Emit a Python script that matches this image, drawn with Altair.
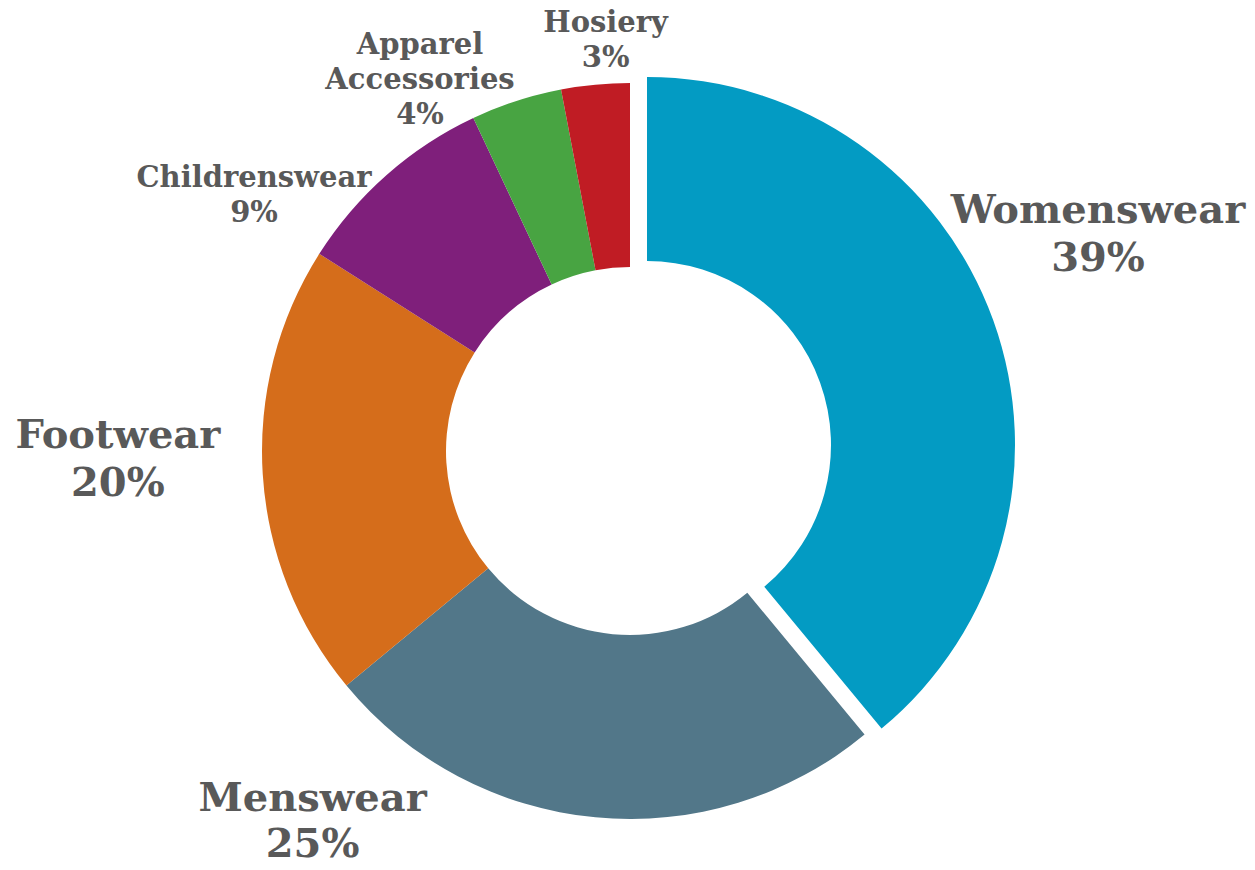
import math
import altair as alt
import pandas as pd

categories = ["Womenswear", "Menswear", "Footwear", "Childrenswear", "Apparel Accessories", "Hosiery"]
values = [39, 25, 20, 9, 4, 3]
label_names = ["Womenswear", "Menswear", "Footwear", "Childrenswear", "Apparel\nAccessories", "Hosiery"]
colors = ["#039BC3", "#527789", "#D56D1B", "#7F1F7B", "#48A442", "#C01C24"]

df = pd.DataFrame({
    "category": categories,
    "value": values,
    "order": list(range(len(categories))),
    "name": label_names,
})
df["label"] = [f"{n}\n{v}%" for n, v in zip(label_names, values)]

# layout (pixels) -----------------------------------------------------------
CX, CY = 622, 442          # donut centre inside the plot area
R_OUT, R_IN = 368, 184
EXPLODE = (17, -6)         # offset of the Womenswear slice
LABEL_R = 440
label_layout = {           # dx, dy, font size, line height
    "Womenswear": (54, -91, 40, 48),
    "Menswear": (-276, -90, 40, 46),
    "Footwear": (-73, -43, 40, 48),
    "Childrenswear": (-85, 57, 29, 35),
    "Apparel Accessories": (-74, 12, 29, 35),
    "Hosiery": (17, 10, 29, 35),
}
FONT = "DejaVu Serif"
TEXT_COLOR = "#595959"

theta_scale = alt.Scale(domain=[0, 100], range=[0, 2 * math.pi])
color_scale = alt.Scale(domain=categories, range=colors)

base = alt.Chart(df).transform_window(
    end="sum(value)", sort=[alt.SortField("order")], frame=[None, 0]
).transform_calculate(
    start="datum.end - datum.value",
    mid="datum.end - datum.value / 2",
)

rest = base.transform_filter(alt.datum.category != "Womenswear").mark_arc(
    radius=R_OUT, radius2=R_IN
).encode(
    theta=alt.Theta("start:Q", scale=theta_scale),
    theta2="end:Q",
    color=alt.Color("category:N", scale=color_scale, legend=None),
    x=alt.value(CX), y=alt.value(CY),
)

exploded = base.transform_filter(alt.datum.category == "Womenswear").mark_arc(
    radius=R_OUT, radius2=R_IN
).encode(
    theta=alt.Theta("start:Q", scale=theta_scale),
    theta2="end:Q",
    color=alt.Color("category:N", scale=color_scale, legend=None),
    x=alt.value(CX + EXPLODE[0]), y=alt.value(CY + EXPLODE[1]),
)

layers = [rest, exploded]
for cat in categories:
    dx, dy, fs, lh = label_layout[cat]
    layers.append(
        base.transform_filter(alt.datum.category == cat).mark_text(
            radius=LABEL_R, dx=dx, dy=dy, fontSize=fs, lineHeight=lh,
            font=FONT, fontWeight="bold", color=TEXT_COLOR,
            lineBreak="\n", align="center", baseline="middle",
        ).encode(
            theta=alt.Theta("mid:Q", scale=theta_scale),
            text="label:N",
            x=alt.value(CX), y=alt.value(CY),
        )
    )

chart = alt.layer(*layers).properties(
    width=1239, height=854,
    autosize=alt.AutoSizeParams(type="fit", contains="padding"),
    padding=0,
).configure_view(stroke=None)

chart.save("out.html", embed_options={"renderer": "svg", "actions": False})
